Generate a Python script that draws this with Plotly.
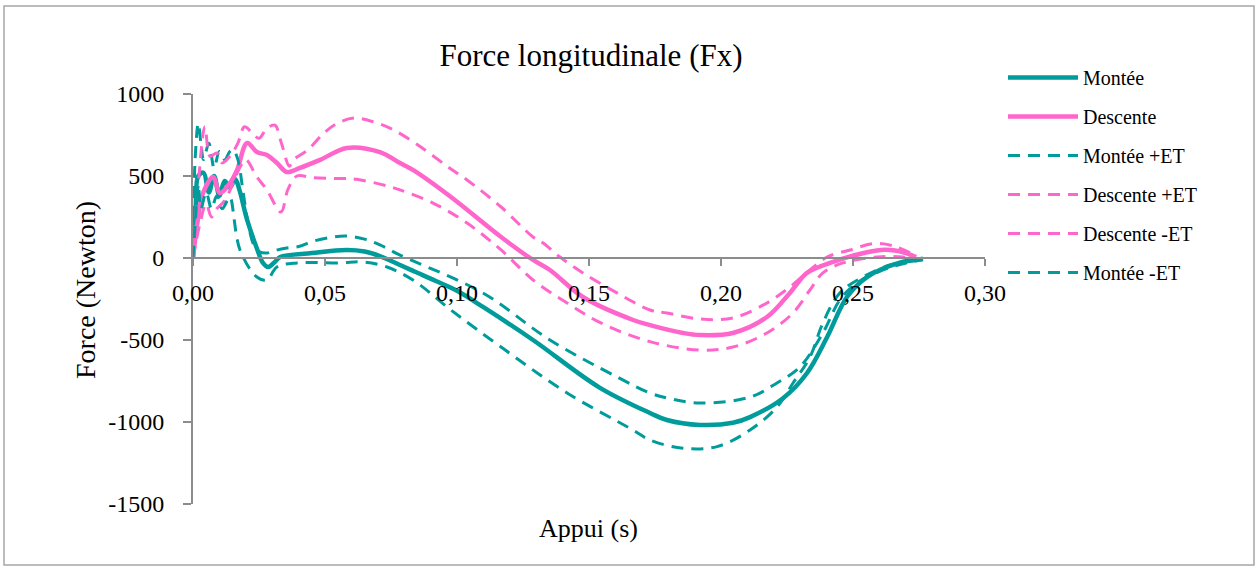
import plotly.graph_objects as go

# ---------------- data ----------------
x_montee = [0, 0.001, 0.002, 0.004, 0.006, 0.008, 0.010, 0.012, 0.014, 0.016, 0.0175, 0.0205,
            0.024, 0.0265, 0.0285, 0.031, 0.033, 0.045, 0.058, 0.065, 0.0708, 0.078, 0.085,
            0.092, 0.100, 0.110, 0.1288, 0.154, 0.1731, 0.1795, 0.192, 0.2045, 0.211, 0.2235,
            0.2326, 0.2402, 0.2477, 0.2553, 0.2674, 0.2739, 0.2765]
y_montee = [0, 300, 500, 520, 400, 500, 380, 470, 430, 480, 420, 232,
            67, -30, -55, -24, 6, 30, 49, 40, 12, -40, -90,
            -140, -200, -300, -500, -790, -945, -988, -1018, -1005, -970, -855,
            -701, -482, -238, -116, -30, -12, -5]

x_descente = [0, 0.002, 0.0038, 0.0076, 0.0102, 0.014, 0.0167, 0.0205, 0.0242, 0.028, 0.0318,
              0.0356, 0.0405, 0.0481, 0.0583, 0.0708, 0.0784, 0.0833, 0.0977, 0.1167, 0.1288,
              0.1352, 0.1477, 0.1667, 0.1731, 0.1856, 0.192, 0.2045, 0.2174, 0.2261, 0.2326,
              0.2424, 0.2553, 0.262, 0.268, 0.2739]
y_descente = [0, 250, 396, 494, 396, 457, 537, 701, 646, 628, 579,
              524, 549, 598, 671, 646, 579, 537, 372, 128, -12,
              -73, -238, -378, -409, -457, -470, -457, -360, -213, -91,
              -24, 35, 50, 40, 5]

x_montee_p = [0, 0.0008, 0.002, 0.003, 0.004, 0.006, 0.008, 0.010, 0.012, 0.014, 0.0152, 0.017,
              0.019, 0.021, 0.023, 0.025, 0.028, 0.031, 0.035, 0.040, 0.045, 0.052, 0.058, 0.065,
              0.0708, 0.0784, 0.1098, 0.1352, 0.1606, 0.1731, 0.1795, 0.192, 0.211, 0.2212,
              0.2299, 0.2386, 0.245, 0.2515, 0.2614, 0.2716, 0.2765]
y_montee_p = [0, 600, 820, 700, 600, 700, 550, 650, 600, 650, 660, 600,
              400, 200, 80, 40, 30, 45, 60, 70, 100, 125, 134, 115,
              80, 18, -213, -500, -725, -823, -853, -884, -848, -762,
              -664, -457, -256, -152, -73, -24, -10]

x_descente_p = [0, 0.002, 0.0045, 0.0065, 0.009, 0.011, 0.014, 0.017, 0.0195, 0.022, 0.025,
                0.028, 0.031, 0.0335, 0.0365, 0.038, 0.0435, 0.0496, 0.0549, 0.061, 0.0686,
                0.0761, 0.0863, 0.0966, 0.1038, 0.1167, 0.1288, 0.1326, 0.139, 0.1477, 0.1606,
                0.1731, 0.1795, 0.192, 0.2045, 0.2174, 0.2261, 0.2337, 0.2402, 0.2489, 0.258,
                0.265, 0.2735]
y_descente_p = [0, 450, 800, 620, 640, 580, 620, 700, 800, 770, 730,
                790, 810, 700, 560, 598, 659, 762, 823, 853, 829,
                780, 677, 555, 476, 311, 128, 91, 6, -91, -213,
                -317, -335, -372, -366, -274, -177, -73, 6, 49, 88,
                75, 18]

x_descente_m = [0, 0.0025, 0.005, 0.007, 0.009, 0.012, 0.015, 0.018, 0.020, 0.0242, 0.028,
                0.0333, 0.036, 0.0394, 0.045, 0.052, 0.058, 0.062, 0.0735, 0.0784, 0.0909,
                0.1038, 0.1167, 0.1288, 0.1417, 0.1545, 0.1731, 0.192, 0.2045, 0.2174, 0.2273,
                0.2337, 0.2386, 0.2462, 0.2591, 0.2689, 0.2727]
y_descente_m = [0, 200, 330, 250, 300, 350, 450, 560, 600, 494, 415,
                280, 420, 500, 490, 485, 485, 480, 440, 415, 335,
                213, 49, -134, -274, -396, -510, -561, -543, -457, -335,
                -195, -91, -30, 6, 6, -12]

x_montee_m = [0, 0.0008, 0.002, 0.003, 0.005, 0.007, 0.009, 0.011, 0.013, 0.014, 0.0178,
              0.0242, 0.028, 0.0318, 0.0394, 0.0557, 0.0644, 0.0735, 0.0833, 0.0977, 0.1167,
              0.1417, 0.1667, 0.1731, 0.1856, 0.1985, 0.211, 0.2212, 0.2273, 0.2337, 0.2386,
              0.245, 0.2538, 0.264, 0.2739, 0.2765]
y_montee_m = [0, 200, 450, 300, 400, 300, 380, 300, 350, 372, 49,
              -116, -134, -55, -30, -30, -24, -55, -134, -317, -543,
              -823, -1049, -1110, -1160, -1150, -1049, -909, -762, -604, -396,
              -213, -116, -43, -12, -5]

series_names = ["Montée", "Descente", "Montée +ET", "Descente +ET", "Descente -ET", "Montée -ET"]

x_tickvals = [0, 0.05, 0.10, 0.15, 0.20, 0.25, 0.30]
x_ticktext = ["0,00", "0,05", "0,10", "0,15", "0,20", "0,25", "0,30"]
y_tickvals = [1000, 500, 0, -500, -1000, -1500]
y_ticktext = ["1000", "500", "0", "-500", "-1000", "-1500"]

# ---------------- style ----------------
TEAL = "#009B9B"
PINK = "#FF66CC"
FONT = "Liberation Serif"
AXIS_GRAY = "#8C8C8C"

W, H = 1257, 567
L, R, T, B = 193, 272, 94, 63
PW = W - L - R
PH = H - T - B

def px_x(p):
    return (p - L) / PW

def px_y(p):
    return (H - B - p) / PH

fig = go.Figure()

specs = [
    (x_montee, y_montee, series_names[0], TEAL, "solid", 4.5),
    (x_descente, y_descente, series_names[1], PINK, "solid", 4.5),
    (x_montee_p, y_montee_p, series_names[2], TEAL, "12px,8px", 3),
    (x_descente_p, y_descente_p, series_names[3], PINK, "12px,8px", 3),
    (x_descente_m, y_descente_m, series_names[4], PINK, "12px,8px", 3),
    (x_montee_m, y_montee_m, series_names[5], TEAL, "12px,8px", 3),
]
for i, (xs, ys, name, col, dash, w) in enumerate(specs):
    fig.add_trace(go.Scatter(
        x=xs, y=ys, name=name, mode="lines",
        line=dict(color=col, width=w, dash=dash, shape="spline", smoothing=1.0),
        legendgroup=f"g{i}",
    ))

fig.update_layout(
    width=W, height=H,
    margin=dict(l=L, r=R, t=T, b=B, autoexpand=False),
    paper_bgcolor="white", plot_bgcolor="white",
    font=dict(family=FONT, color="black"),
    showlegend=True,
    title=dict(text="Force longitudinale (Fx)", x=591 / W, xref="container", xanchor="center",
               y=1 - 55 / H, yref="container", yanchor="middle",
               font=dict(family=FONT, size=31, color="black")),
    legend=dict(x=px_x(1003), xanchor="left", y=px_y(58), yanchor="top",
                font=dict(family=FONT, size=20, color="black"),
                bgcolor="rgba(0,0,0,0)", tracegroupgap=10, itemwidth=70,
                traceorder="grouped"),
    xaxis=dict(range=[0, 0.30], tickvals=x_tickvals, ticktext=x_ticktext,
               anchor="free", position=0.6, showgrid=False, zeroline=False,
               showline=True, linecolor=AXIS_GRAY, linewidth=2,
               ticks="outside", ticklen=7, tickwidth=2, tickcolor=AXIS_GRAY,
               tickfont=dict(family=FONT, size=24, color="black"),
               ticklabelstandoff=6),
    yaxis=dict(range=[-1500, 1000], tickvals=y_tickvals, ticktext=y_ticktext,
               showgrid=False, zeroline=False,
               showline=True, linecolor=AXIS_GRAY, linewidth=2,
               ticks="outside", ticklen=8, tickwidth=2, tickcolor=AXIS_GRAY,
               tickfont=dict(family=FONT, size=24, color="black"),
               ticklabelstandoff=14),
)

fig.add_annotation(text="Appui (s)", xref="paper", yref="paper",
                   x=px_x(588), y=px_y(528), xanchor="center", yanchor="middle",
                   showarrow=False, font=dict(family=FONT, size=26, color="black"))
fig.add_annotation(text="Force (Newton)", xref="paper", yref="paper",
                   x=px_x(85), y=px_y(290), xanchor="center", yanchor="middle",
                   textangle=-90, showarrow=False,
                   font=dict(family=FONT, size=28, color="black"))

fig.add_shape(type="rect", xref="paper", yref="paper",
              x0=px_x(4), x1=px_x(1254), y0=px_y(565), y1=px_y(6),
              line=dict(color="#A6A6A6", width=1.5), fillcolor="rgba(0,0,0,0)", layer="below")

fig.write_html("out.html")
